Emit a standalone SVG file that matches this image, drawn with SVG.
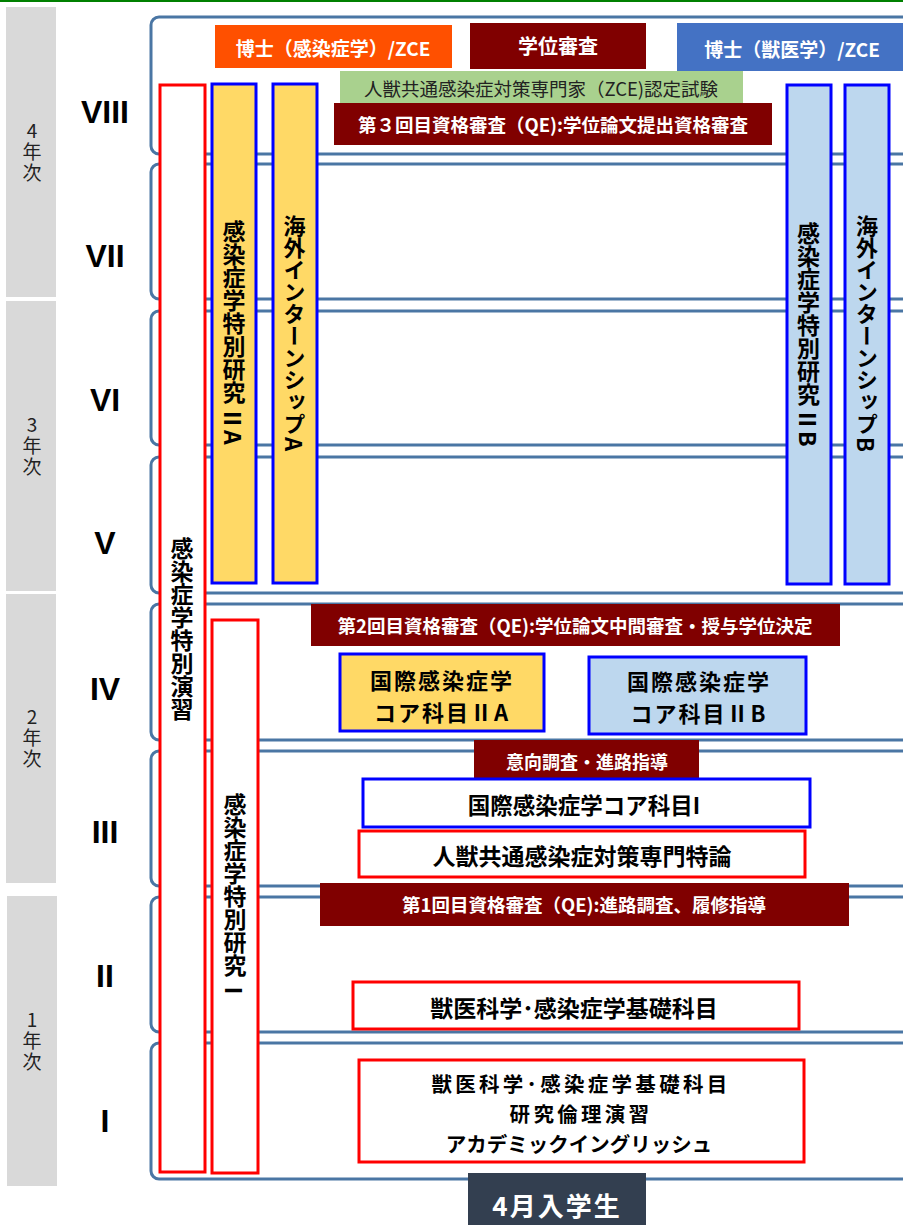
<svg xmlns="http://www.w3.org/2000/svg" width="903" height="1225" viewBox="0 0 903 1225">
<style>
text{font-family:"Noto Sans CJK JP","Noto Sans CJK SC",sans-serif;}
.yr{fill:#d9d9d9;}
.yt{font-size:19px;fill:#222;writing-mode:vertical-rl;text-orientation:upright;letter-spacing:2px;}
.rn{font-family:"Liberation Sans",Arial,sans-serif;font-weight:bold;font-size:32px;text-anchor:middle;fill:#000;}
.sem{fill:none;stroke:#4a76a4;stroke-width:3;}
.colR{fill:#fff;stroke:#ff0000;stroke-width:3;}
.colY{fill:#ffd966;stroke:#0000ff;stroke-width:3;}
.colB{fill:#bdd7ee;stroke:#0000ff;stroke-width:3;}
.vt{writing-mode:vertical-rl;font-weight:bold;fill:#000;}
.rt{font-weight:bold;fill:#000;dominant-baseline:central;}
.ban{fill:#800000;}
.wt{fill:#fff;font-weight:bold;text-anchor:middle;dominant-baseline:central;}
.bt{fill:#000;font-weight:bold;text-anchor:middle;dominant-baseline:central;}
.boxR{fill:#fff;stroke:#ff0000;stroke-width:3;}
.boxB{fill:#fff;stroke:#0000ff;stroke-width:3;}
</style>
<rect x="0" y="0" width="903" height="2" fill="#008000"/>

<g id="years">
<rect class="yr" x="6" y="7" width="50" height="290"/>
<text class="yt" x="32" y="121">4年次</text>
<rect class="yr" x="6" y="301" width="50" height="290"/>
<text class="yt" x="32" y="415">3年次</text>
<rect class="yr" x="6" y="594" width="50" height="289"/>
<text class="yt" x="32" y="707">2年次</text>
<rect class="yr" x="7" y="896" width="50" height="290"/>
<text class="yt" x="32" y="1010">1年次</text>
</g>

<g id="semesters">
<path class="sem" d="M960 17H159A8 8 0 0 0 151 25V146A8 8 0 0 0 159 154H960"/>
<path class="sem" d="M960 164H159A8 8 0 0 0 151 172V291A8 8 0 0 0 159 299H960"/>
<path class="sem" d="M960 311H159A8 8 0 0 0 151 319V437A8 8 0 0 0 159 445H960"/>
<path class="sem" d="M960 457H159A8 8 0 0 0 151 465V585A8 8 0 0 0 159 593H960"/>
<path class="sem" d="M960 604H159A8 8 0 0 0 151 612V732A8 8 0 0 0 159 740H960"/>
<path class="sem" d="M960 751H159A8 8 0 0 0 151 759V878A8 8 0 0 0 159 886H960"/>
<path class="sem" d="M960 897H159A8 8 0 0 0 151 905V1024A8 8 0 0 0 159 1032H960"/>
<path class="sem" d="M960 1043H159A8 8 0 0 0 151 1051V1171A8 8 0 0 0 159 1179H960"/>
<text class="rn" x="105" y="123">VIII</text>
<text class="rn" x="105" y="267">VII</text>
<text class="rn" x="105" y="411">VI</text>
<text class="rn" x="105" y="554">V</text>
<text class="rn" x="105" y="700">IV</text>
<text class="rn" x="105" y="843">III</text>
<text class="rn" x="105" y="987">II</text>
<text class="rn" x="105" y="1132">I</text>
</g>

<g id="connectors"></g>

<g id="col-enshu">
<rect class="colR" x="160" y="85" width="45" height="1087"/>
<text class="vt" x="182" y="537" font-size="23">感染症学特別演習</text>
</g>
<g id="col-kenkyu1">
<rect class="colR" x="212" y="620" width="46" height="553"/>
<text class="vt" x="235" y="793" font-size="23">感染症学特別研究</text>
<text class="rt" transform="translate(235,979) rotate(90)" font-size="23">Ⅰ</text>
</g>
<g id="col-kenkyu2a">
<rect class="colY" x="212" y="84" width="44" height="499"/>
<text class="vt" x="234" y="220" font-size="23">感染症学特別研究</text>
<text class="rt" transform="translate(234,407) rotate(90)" font-size="23">ⅡA</text>
</g>
<g id="col-intern-a">
<rect class="colY" x="273" y="84" width="44" height="499"/>
<text class="vt" x="294.5" y="215" font-size="22">海外インターンシップ</text>
<text class="rt" transform="translate(294.5,437) rotate(90)" font-size="22">A</text>
</g>
<g id="col-kenkyu2b">
<rect class="colB" x="787" y="85" width="44" height="499"/>
<text class="vt" x="808.5" y="222" font-size="23">感染症学特別研究</text>
<text class="rt" transform="translate(808.5,408) rotate(90)" font-size="23">ⅡB</text>
</g>
<g id="col-intern-b">
<rect class="colB" x="845" y="85" width="44" height="499"/>
<text class="vt" x="867" y="215" font-size="22">海外インターンシップ</text>
<text class="rt" transform="translate(867,437) rotate(90)" font-size="22">B</text>
</g>

<g id="doc-infect">
<rect x="215" y="25" width="237" height="43" fill="#ff5000"/>
<text class="wt" x="333" y="47" font-size="19">博士（感染症学）/ZCE</text>
</g>
<g id="degree-review">
<rect class="ban" x="470" y="23" width="176" height="46"/>
<text class="wt" x="558" y="45" font-size="20">学位審査</text>
</g>
<g id="doc-vet">
<rect x="677" y="23" width="226" height="48" fill="#4472c4"/>
<text class="wt" x="792" y="48" font-size="19">博士（獣医学）/ZCE</text>
</g>
<g id="zce-exam">
<rect x="340" y="71" width="403" height="32" fill="#a9d18e"/>
<text x="541" y="88" font-size="18.5" fill="#222" text-anchor="middle" dominant-baseline="central">人獣共通感染症対策専門家（ZCE)認定試験</text>
</g>
<g id="qe3">
<rect class="ban" x="334" y="103" width="438" height="42"/>
<text class="wt" x="553" y="124" font-size="18.5">第３回目資格審査（QE):学位論文提出資格審査</text>
</g>

<g id="qe2">
<rect class="ban" x="311" y="604" width="529" height="42"/>
<text class="wt" x="575" y="625" font-size="18.5">第2回目資格審査（QE):学位論文中間審査・授与学位決定</text>
</g>
<g id="core2a">
<rect class="colY" x="340" y="654" width="204" height="77"/>
<text class="bt" font-size="22" letter-spacing="2"><tspan x="442" y="679">国際感染症学</tspan><tspan x="442" y="711">コア科目ⅡA</tspan></text>
</g>
<g id="core2b">
<rect class="colB" x="589" y="657" width="217" height="77"/>
<text class="bt" font-size="22" letter-spacing="2"><tspan x="699" y="680">国際感染症学</tspan><tspan x="699" y="712">コア科目ⅡB</tspan></text>
</g>
<g id="survey">
<rect class="ban" x="474" y="740" width="225" height="42"/>
<text class="wt" x="587" y="761" font-size="18">意向調査・進路指導</text>
</g>
<g id="core1">
<rect class="boxB" x="363" y="779" width="447" height="48"/>
<text class="bt" x="584" y="804" font-size="22.5">国際感染症学コア科目I</text>
</g>
<g id="zoonosis">
<rect class="boxR" x="359" y="831" width="446" height="46"/>
<text class="bt" x="582" y="855" font-size="23">人獣共通感染症対策専門特論</text>
</g>
<g id="qe1">
<rect class="ban" x="320" y="883" width="529" height="43"/>
<text class="wt" x="584" y="904" font-size="18.5">第1回目資格審査（QE):進路調査、履修指導</text>
</g>
<g id="basic2">
<rect class="boxR" x="353" y="982" width="446" height="47"/>
<text class="bt" x="574" y="1007" font-size="23">獣医科学･感染症学基礎科目</text>
</g>
<g id="basic1">
<rect class="boxR" x="359" y="1060" width="445" height="102"/>
<text class="bt" font-size="20.5"><tspan x="581" y="1083" letter-spacing="3.3">獣医科学･感染症学基礎科目</tspan><tspan x="581" y="1113" letter-spacing="3.3">研究倫理演習</tspan><tspan x="579" y="1142.8">アカデミックイングリッシュ</tspan></text>
</g>
<g id="april">
<rect x="468" y="1173" width="178" height="52" fill="#333f50"/>
<text class="wt" x="557" y="1204" font-size="26" letter-spacing="2">4月入学生</text>
</g>
</svg>
